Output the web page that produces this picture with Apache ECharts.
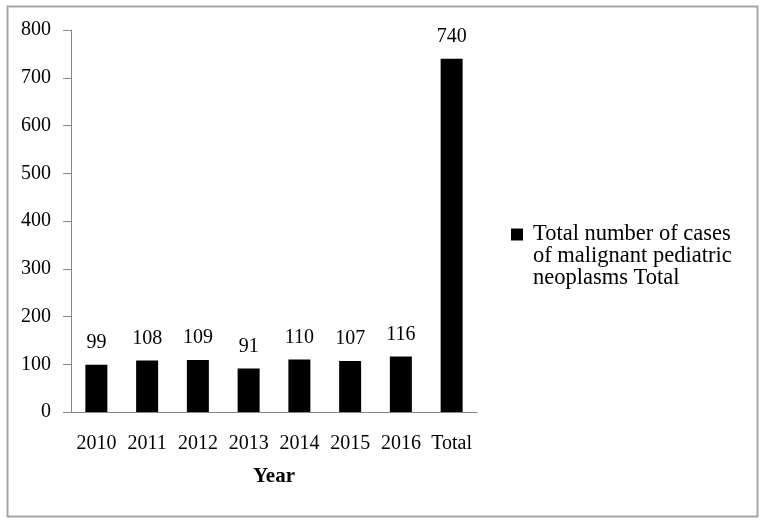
<!DOCTYPE html>
<html><head><meta charset="utf-8">
<script src="https://cdn.jsdelivr.net/npm/echarts@6/dist/echarts.min.js"></script>
<style>html,body{margin:0;padding:0;background:#fff}#c{width:761px;height:522px}</style>
</head><body><div id="c"></div>
<script>
var categories = ['2010','2011','2012','2013','2014','2015','2016','Total'];
var values = [99,108,109,91,110,107,116,740];
var yTicks = [0,100,200,300,400,500,600,700,800];
var seriesName = 'Total number of cases of malignant pediatric neoplasms Total';
var legendLines = ['Total number of cases','of malignant pediatric','neoplasms Total'];
var xTitle = 'Year';

var FONT = '"Liberation Serif", serif';
var chart = echarts.init(document.getElementById('c'), null, {renderer:'canvas'});
chart.setOption({
  animation:false,
  backgroundColor:'#fff',
  textStyle:{fontFamily:FONT},
  graphic:[{type:'rect',left:5,top:4,shape:{width:750,height:510},style:{fill:'none',stroke:'#a6a6a6',lineWidth:2},silent:true}],
  grid:{left:71,right:284,top:30,bottom:110,containLabel:false},
  legend:{
    left:511, top:179, orient:'vertical', padding:0,
    itemWidth:12,itemHeight:12,icon:'rect',
    formatter:function(){return '\n\n' + legendLines.join('\n');},
    textStyle:{fontFamily:FONT,fontSize:22.5,color:'#000',lineHeight:22,padding:[0,0,0,5]},
    data:[seriesName]
  },
  xAxis:{type:'category',data:categories,
    axisLine:{lineStyle:{color:'#868686',width:1}},
    axisTick:{length:7,lineStyle:{color:'#868686'}},
    axisLabel:{interval:0,fontFamily:FONT,fontSize:20,color:'#000',margin:22},
    name:xTitle,nameLocation:'middle',nameGap:54,
    nameTextStyle:{fontFamily:FONT,fontSize:21,fontWeight:'bold',color:'#000'}
  },
  yAxis:{type:'value',min:0,max:800,interval:100,
    axisLine:{show:true,lineStyle:{color:'#868686',width:1}},
    axisTick:{show:true,length:8,lineStyle:{color:'#868686'}},
    splitLine:{show:false},
    axisLabel:{fontFamily:FONT,fontSize:20,color:'#000',margin:20}
  },
  series:[{name:seriesName,type:'bar',data:values,barWidth:22,
    itemStyle:{color:'#000'},
    label:{show:true,position:'top',distance:12,fontFamily:FONT,fontSize:20,color:'#000'}
  }]
});
</script></body></html>
